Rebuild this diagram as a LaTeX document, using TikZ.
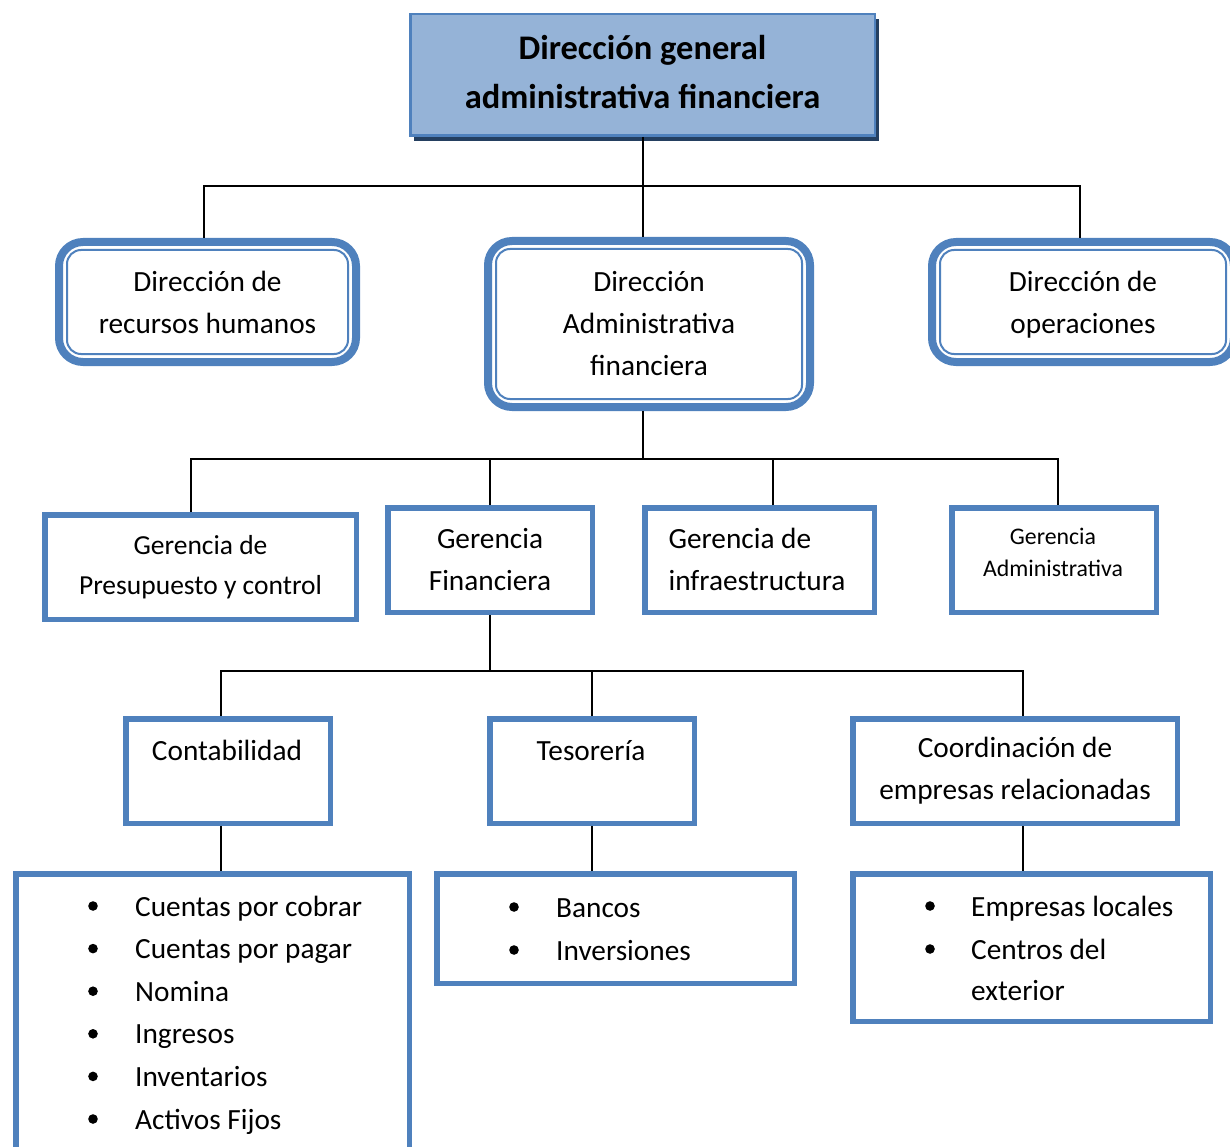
\documentclass[tikz,border=0pt]{standalone}
\usepackage{fontspec}
\setmainfont{Carlito}
\usepackage{tikz}
\usetikzlibrary{calc}
\usetikzlibrary{shadows}
\definecolor{azul}{RGB}{79,129,189}
\definecolor{celeste}{RGB}{149,179,215}
\definecolor{marino}{RGB}{36,63,96}
\newcommand{\letra}{\fontsize{29.3}{42}\selectfont}
\tikzset{
  caja/.style={draw=azul, line width=5.5pt, fill=white, inner sep=0pt, align=center, font=\letra},
  dir/.style={caja, line width=8pt, rounded corners=24pt},
  interior/.style={draw=azul, line width=2pt, rounded corners=14pt},
  enlace/.style={black, line width=2pt},
  texto/.style={anchor=base, inner sep=0pt, font=\letra},
  item/.style={anchor=base west, inner sep=0pt, font=\letra}
}

\begin{document}
\begin{tikzpicture}[x=1pt,y=-1pt]
\useasboundingbox (0,0) rectangle (1230,1147);
\clip (0,0) rectangle (1230,1147);

\node[caja, line width=2.5pt, fill=celeste, minimum width=464.5pt, minimum height=121.5pt,
  font=\bfseries\fontsize{34.5}{49}\selectfont,
  drop shadow={shadow xshift=4pt, shadow yshift=-5pt, fill=marino, opacity=1}]
  (dg) at (642.5,75) {};
\node[texto, align=center, anchor=center, font=\bfseries\fontsize{34.5}{49}\selectfont] (dgt) at (642.5,72) {Dirección general\\administrativa financiera};

\node[dir, minimum width=297pt, minimum height=120pt] (rh) at (207.5,302) {Dirección de\\recursos humanos};
\node[dir, minimum width=322pt, minimum height=166pt] (daf) at (649,324) {Dirección\\Administrativa\\financiera};
\node[dir, minimum width=302pt, minimum height=120pt, text depth=0pt] (do) at (1083,302) {Dirección de\\operaciones};
\foreach \n in {rh,daf,do} {
  \draw[interior] ([xshift=12pt,yshift=-12pt]\n.north west) rectangle ([xshift=-12pt,yshift=12pt]\n.south east);
}

\node[caja, minimum width=311.5pt, minimum height=104.5pt, font=\fontsize{27.5}{40}\selectfont] (gp) at (200.5,567) {Gerencia de\\Presupuesto y control};
\node[caja, minimum width=204.5pt, minimum height=104.5pt] (gf) at (490,560) {Gerencia\\Financiera};
\node[caja, minimum width=229.5pt, minimum height=104.5pt] (gi) at (759.5,560) {};
\node[texto, align=left, anchor=center] (git) at (757,559) {Gerencia de\\infraestructura};
\node[caja, minimum width=204.5pt, minimum height=104.5pt] (ga) at (1054,560) {};
\node[texto, align=center, anchor=center, font=\fontsize{23.8}{32}\selectfont] (gat) at (1053,552) {Gerencia\\Administrativa};

\node[caja, minimum width=204.5pt, minimum height=104.5pt] (cont) at (228,771) {};
\node[texto] (contt) at (227,760) {Contabilidad};
\node[caja, minimum width=204.5pt, minimum height=104.5pt] (tes) at (592,771) {};
\node[texto] (test) at (591,760) {Tesorería};
\node[caja, minimum width=324.5pt, minimum height=104.5pt] (coord) at (1015,771) {Coordinación de\\empresas relacionadas};

\node[caja, minimum width=393.5pt, minimum height=281pt] (l1) at (212.5,1014.4) {};
\node[caja, minimum width=357.5pt, minimum height=109.5pt] (l2) at (615.5,928.5) {};
\node[caja, minimum width=357.5pt, minimum height=147.5pt] (l3) at (1031.5,947.5) {};

\foreach \t [count=\i from 0] in {Cuentas por cobrar, Cuentas por pagar, Nomina, Ingresos, Inventarios, Activos Fijos} {
  \fill (93,906+42.6*\i) circle (4.8);
  \node[item] (a\i) at (135,916+42.6*\i) {\t};
}
\foreach \t [count=\i from 0] in {Bancos, Inversiones} {
  \fill (514,907+43*\i) circle (4.8);
  \node[item] (b\i) at (556,917+43*\i) {\t};
}
\foreach \t [count=\i from 0] in {Empresas locales, Centros del} {
  \fill (930,906+43*\i) circle (4.8);
  \node[item] (c\i) at (971,916+43*\i) {\t};
}
\node[item] (c2) at (971,1000) {exterior};

\draw[enlace] (dg.south) -- ++(0,49) coordinate (bus1);
\draw[enlace] ([xshift=-3.5pt]rh.north) |- (bus1) -| ([xshift=-3pt]do.north);
\draw[enlace] (bus1) -- (bus1 |- daf.north);

\draw[enlace] (daf.south -| bus1) -- ++(0,48) coordinate (bus2);
\draw[enlace] ([xshift=-9.5pt]gp.north) |- (bus2) -| ([xshift=4pt]ga.north);
\draw[enlace] (gf.north) -- (gf.north |- bus2);
\draw[enlace] ([xshift=13.5pt]gi.north) -- ([xshift=13.5pt]gi.north |- bus2);

\draw[enlace] (gf.south) -- ++(0,56) coordinate (bus3);
\draw[enlace] ([xshift=-7pt]cont.north) |- (bus3) -| ([xshift=8pt]coord.north);
\draw[enlace] (tes.north) -- (tes.north |- bus3);

\draw[enlace] ([xshift=-7pt]cont.south) -- ([xshift=-7pt]cont.south |- l1.north);
\draw[enlace] (tes.south) -- (tes.south |- l2.north);
\draw[enlace] ([xshift=8pt]coord.south) -- ([xshift=8pt]coord.south |- l3.north);
\end{tikzpicture}
\end{document}
